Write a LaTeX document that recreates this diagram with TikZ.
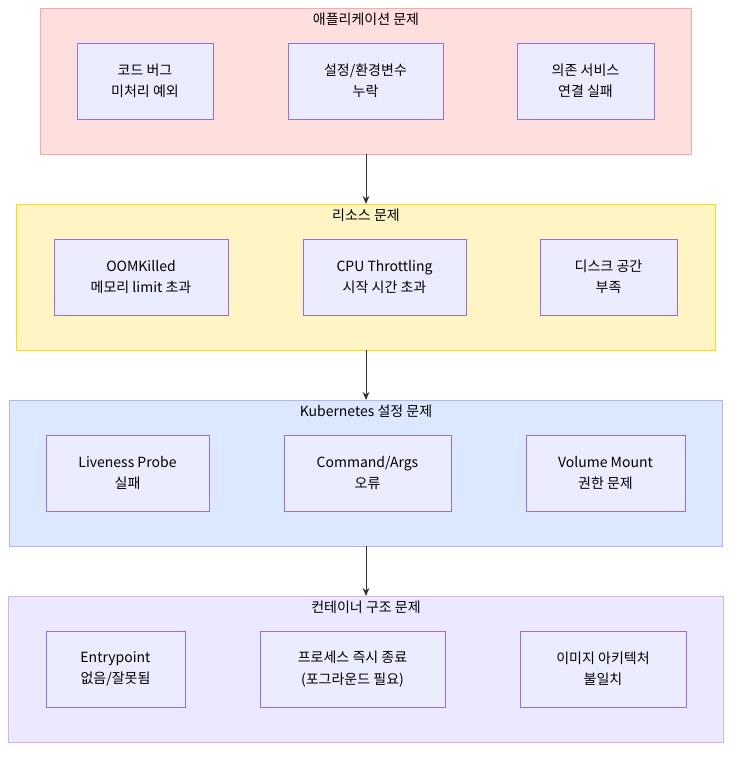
\documentclass[tikz,border=0pt]{standalone}
\usepackage{fontspec}
\setmainfont{Noto Sans CJK KR}
\usetikzlibrary{arrows.meta}
\definecolor{boxfill}{HTML}{ECECFF}
\definecolor{boxline}{HTML}{9370DB}
\tikzset{
  grp/.style={draw=#1!70!black!60, fill=#1, line width=0.6pt},
  box/.style={draw=boxline, fill=boxfill, line width=0.6pt, align=center, inner sep=0pt},
  ttl/.style={font=\fontsize{10.5}{14}\selectfont},
  flow/.style={-{Stealth[length=6pt,width=5pt]}, line width=0.7pt, draw=black!80}
}
\begin{document}
\begin{tikzpicture}[x=0.75pt,y=-0.75pt,font=\fontsize{10.5}{16}\selectfont]
\useasboundingbox (0,0) rectangle (739,758);

% groups
\definecolor{gA}{HTML}{FFDEDE}
\definecolor{gB}{HTML}{FFF4C4}
\definecolor{gC}{HTML}{DCE8FF}
\definecolor{gD}{HTML}{ECE8FF}
\draw[grp=gA, draw=red!35] (40,8) rectangle (691,154);
\draw[grp=gB, draw=yellow!80!orange] (16,204) rectangle (715,350);
\draw[grp=gC, draw=blue!30] (9,400) rectangle (722,546);
\draw[grp=gD, draw=violet!30] (8,596) rectangle (723,742);
\coordinate (appB) at (366,154);
\coordinate (resT) at (366,204);
\coordinate (resB) at (366,350);
\coordinate (k8sT) at (366,400);
\coordinate (k8sB) at (366,546);
\coordinate (ctrT) at (366,596);

% titles
\node[ttl] (appttl) at (366,19) {애플리케이션 문제};
\node[ttl] (resttl) at (366,215) {리소스 문제};
\node[ttl] (k8sttl) at (366,411) {Kubernetes 설정 문제};
\node[ttl] (ctrttl) at (366,607) {컨테이너 구조 문제};

% boxes
\node[box, minimum width=136*0.75pt, minimum height=76*0.75pt] (bug) at (145,81) {코드 버그\\미처리 예외};
\node[box, minimum width=155*0.75pt, minimum height=76*0.75pt] (env) at (365.5,81) {설정/환경변수\\누락};
\node[box, minimum width=137*0.75pt, minimum height=76*0.75pt] (dep) at (585.5,81) {의존 서비스\\연결 실패};

\node[box, minimum width=174*0.75pt, minimum height=76*0.75pt] (oom) at (141,277) {OOMKilled\\메모리 limit 초과};
\node[box, minimum width=163*0.75pt, minimum height=76*0.75pt] (cpu) at (384.5,277) {CPU Throttling\\시작 시간 초과};
\node[box, minimum width=137*0.75pt, minimum height=76*0.75pt] (disk) at (608.5,277) {디스크 공간\\부족};

\node[box, minimum width=163*0.75pt, minimum height=76*0.75pt] (probe) at (127.5,473) {Liveness Probe\\실패};
\node[box, minimum width=167*0.75pt, minimum height=76*0.75pt] (cmd) at (367.5,473) {Command/Args\\오류};
\node[box, minimum width=159*0.75pt, minimum height=76*0.75pt] (vol) at (605.5,473) {Volume Mount\\권한 문제};

\node[box, minimum width=139*0.75pt, minimum height=76*0.75pt] (entry) at (115.5,669) {Entrypoint\\없음/잘못됨};
\node[box, minimum width=185*0.75pt, minimum height=76*0.75pt] (proc) at (352.5,669) {프로세스 즉시 종료\\(포그라운드 필요)};
\node[box, minimum width=166*0.75pt, minimum height=76*0.75pt] (arch) at (603,669) {이미지 아키텍처\\불일치};

% flow
\draw[flow] (appB) -- (resT);
\draw[flow] (resB) -- (k8sT);
\draw[flow] (k8sB) -- (ctrT);
\end{tikzpicture}
\end{document}
